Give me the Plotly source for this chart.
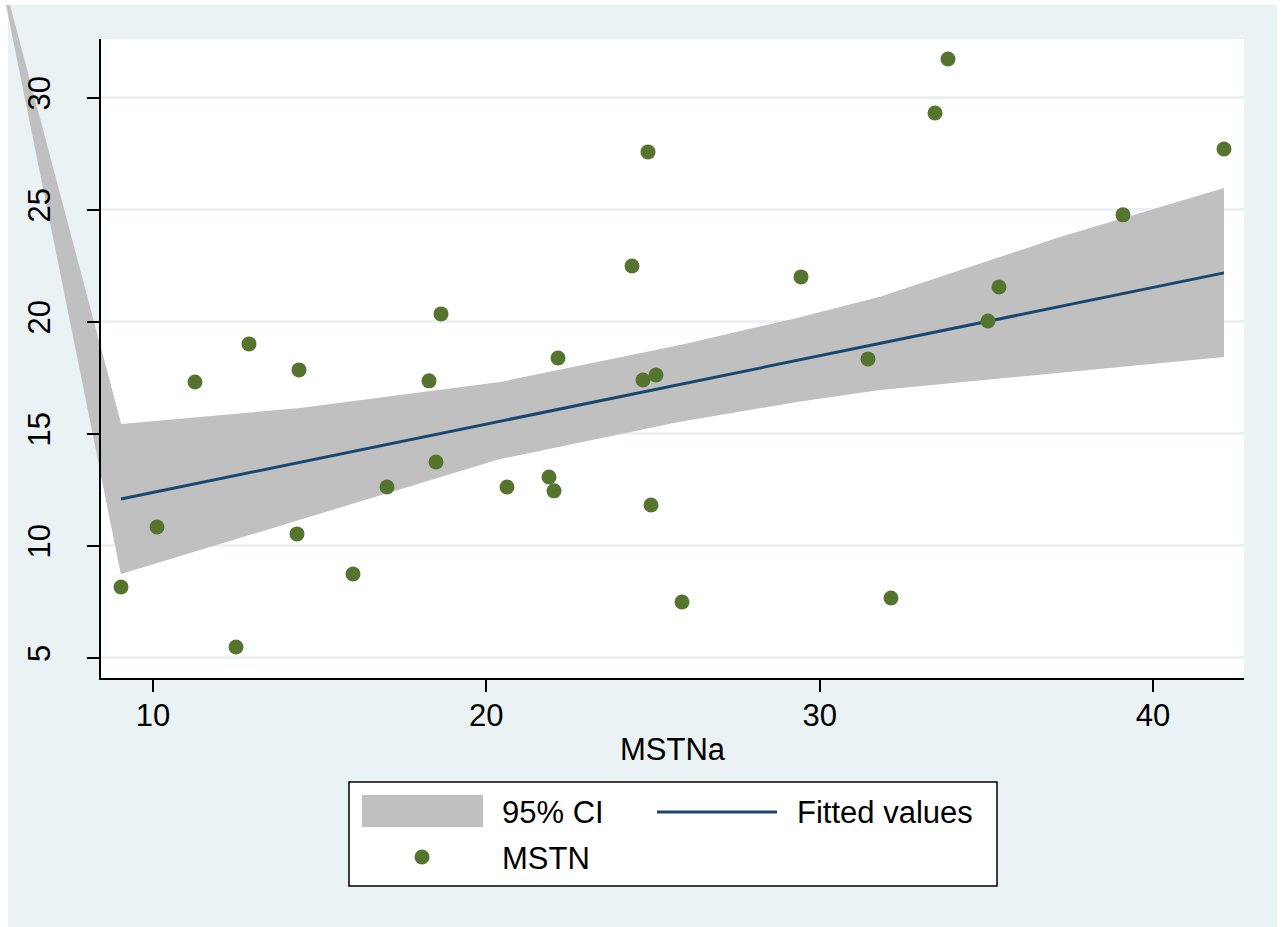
import plotly.graph_objects as go

# ---------------- data ----------------
mstna = [9.04, 10.12, 11.26, 12.88, 12.49, 14.38, 14.32, 16.00, 17.02, 18.28,
         18.49, 18.64, 20.62, 21.88, 22.03, 22.15, 24.37, 24.70, 25.09, 24.85,
         24.94, 25.87, 29.44, 31.45, 32.14, 33.46, 33.85, 35.05, 35.38, 39.10, 42.13]
mstn = [8.17, 10.85, 17.32, 19.02, 5.49, 17.86, 10.54, 8.75, 12.63, 17.37,
        13.75, 20.36, 12.63, 13.08, 12.46, 18.39, 22.50, 17.41, 17.63, 27.59,
        11.83, 7.50, 22.01, 18.35, 7.68, 29.33, 31.74, 20.04, 21.56, 24.78, 27.72]

fit_x = [9.04, 42.13]
fit_y = [12.10, 22.19]

ci_x = [9.04, 14.41, 20.41, 25.81, 29.32, 31.81, 37.21, 42.13]
ci_upper = [15.45, 16.16, 17.32, 18.97, 20.18, 21.12, 23.79, 25.98]
ci_lower = [8.75, 11.16, 13.88, 15.54, 16.43, 16.96, 17.72, 18.44]

# stray CI polygon vertices (rendering artefact that spills to the top-left)
ci_stray_x = [5.59, 5.71]
ci_stray_y = [34.15, 34.15]

x_ticks = [10, 20, 30, 40]
y_ticks = [5, 10, 15, 20, 25, 30]
x_title = "MSTNa"
legend_labels = ["95% CI", "Fitted values", "MSTN"]

# ---------------- layout constants ----------------
W, H = 1285, 927
ML, MR, MT, MB = 101, 41, 39, 249
XR = [8.44, 42.73]
YR = [4.107, 32.63]
PW, PH = W - ML - MR, H - MT - MB

BG = "#EAF2F3"
GREEN = "#55752F"
NAVY = "#1A476F"
GRAY = "#C0C0C0"
FONT = "Liberation Sans, Arial, sans-serif"


def px_x(p):
    return (p - ML) / PW


def px_y(p):
    return (H - MB - p) / PH


def dom_x(v):
    return (v - XR[0]) / (XR[1] - XR[0])


def dom_y(v):
    return (v - YR[0]) / (YR[1] - YR[0])


fig = go.Figure()

# CI polygon: upper edge, lower edge back, then the stray vertices
poly_x = ci_x + ci_x[::-1] + ci_stray_x + [ci_x[0]]
poly_y = ci_upper + ci_lower[::-1] + ci_stray_y + [ci_upper[0]]
fig.add_trace(go.Scatter(
    x=poly_x, y=poly_y,
    fill="toself", fillcolor=GRAY, mode="lines",
    line=dict(width=0, color="rgba(0,0,0,0)"),
    name=legend_labels[0], hoverinfo="skip"))

fig.add_trace(go.Scatter(
    x=fit_x, y=fit_y, mode="lines",
    line=dict(color=NAVY, width=3), name=legend_labels[1]))

fig.add_trace(go.Scatter(
    x=mstna, y=mstn, mode="markers",
    marker=dict(color=GREEN, size=15, line=dict(width=0)),
    name=legend_labels[2]))

shapes = []
# outer graph region (light blue) with thin white border
shapes.append(dict(type="rect", xref="paper", yref="paper", layer="below",
                   x0=px_x(8), x1=px_x(1277), y0=px_y(930), y1=px_y(5),
                   fillcolor=BG, line=dict(width=0)))
# plot region white
shapes.append(dict(type="rect", xref="paper", yref="paper", layer="below",
                   x0=0, x1=1, y0=0, y1=1, fillcolor="white", line=dict(width=0)))
# part of the stray CI wedge lying outside the plot area (not clipped)
path = (f"M {dom_x(ci_stray_x[0])},{dom_y(ci_stray_y[0])} "
        f"L {dom_x(ci_x[0])},{dom_y(ci_lower[0])} "
        f"L {dom_x(ci_x[0])},{dom_y(ci_upper[0])} "
        f"L {dom_x(ci_stray_x[1])},{dom_y(ci_stray_y[1])} Z")
shapes.append(dict(type="path", xref="paper", yref="paper", layer="below",
                   path=path, fillcolor=GRAY, line=dict(width=0)))

# ---- manual legend ----
shapes.append(dict(type="rect", xref="paper", yref="paper", layer="above",
                   x0=px_x(349), x1=px_x(997), y0=px_y(886), y1=px_y(782),
                   fillcolor="white", line=dict(color="black", width=1.5)))
shapes.append(dict(type="rect", xref="paper", yref="paper", layer="above",
                   x0=px_x(362), x1=px_x(483), y0=px_y(827), y1=px_y(795),
                   fillcolor=GRAY, line=dict(width=0)))
shapes.append(dict(type="line", xref="paper", yref="paper", layer="above",
                   x0=px_x(657), x1=px_x(777), y0=px_y(812), y1=px_y(812),
                   line=dict(color=NAVY, width=3)))
shapes.append(dict(type="circle", xref="paper", yref="paper", layer="above",
                   x0=px_x(414.5), x1=px_x(429.5), y0=px_y(864.5), y1=px_y(849.5),
                   fillcolor=GREEN, line=dict(width=0)))

annotations = []
for text, xp, yp in [(legend_labels[0], 500, 812), (legend_labels[1], 795, 812),
                     (legend_labels[2], 500, 858)]:
    annotations.append(dict(text=text, xref="paper", yref="paper",
                            x=px_x(xp), y=px_y(yp), xanchor="left", yanchor="middle",
                            showarrow=False, font=dict(family=FONT, size=31, color="black")))

fig.update_layout(
    width=W, height=H,
    margin=dict(l=ML, r=MR, t=MT, b=MB, autoexpand=False),
    paper_bgcolor="white", plot_bgcolor="rgba(0,0,0,0)",
    showlegend=False,
    shapes=shapes, annotations=annotations,
    font=dict(family=FONT, color="black"),
)

fig.update_xaxes(
    range=XR, tickvals=x_ticks, ticks="outside", ticklen=12, tickwidth=1.5,
    tickcolor="black", showline=True, linecolor="black", linewidth=2,
    showgrid=False, zeroline=False, tickfont=dict(size=31, family=FONT, color="black"),
    ticklabelstandoff=-3,
    title=dict(text=x_title, font=dict(size=31, family=FONT, color="black"), standoff=6),
)
fig.update_yaxes(
    range=YR, tickvals=y_ticks, ticks="outside", ticklen=12, tickwidth=1.5,
    tickcolor="black", showline=True, linecolor="black", linewidth=2,
    showgrid=True, gridcolor=BG, gridwidth=2.5, zeroline=False,
    tickangle=-90, tickfont=dict(size=31, family=FONT, color="black"),
    ticklabelstandoff=25,
)

fig.write_html("out.html", config={"displayModeBar": False},
               post_script="document.body.style.margin='0';")
